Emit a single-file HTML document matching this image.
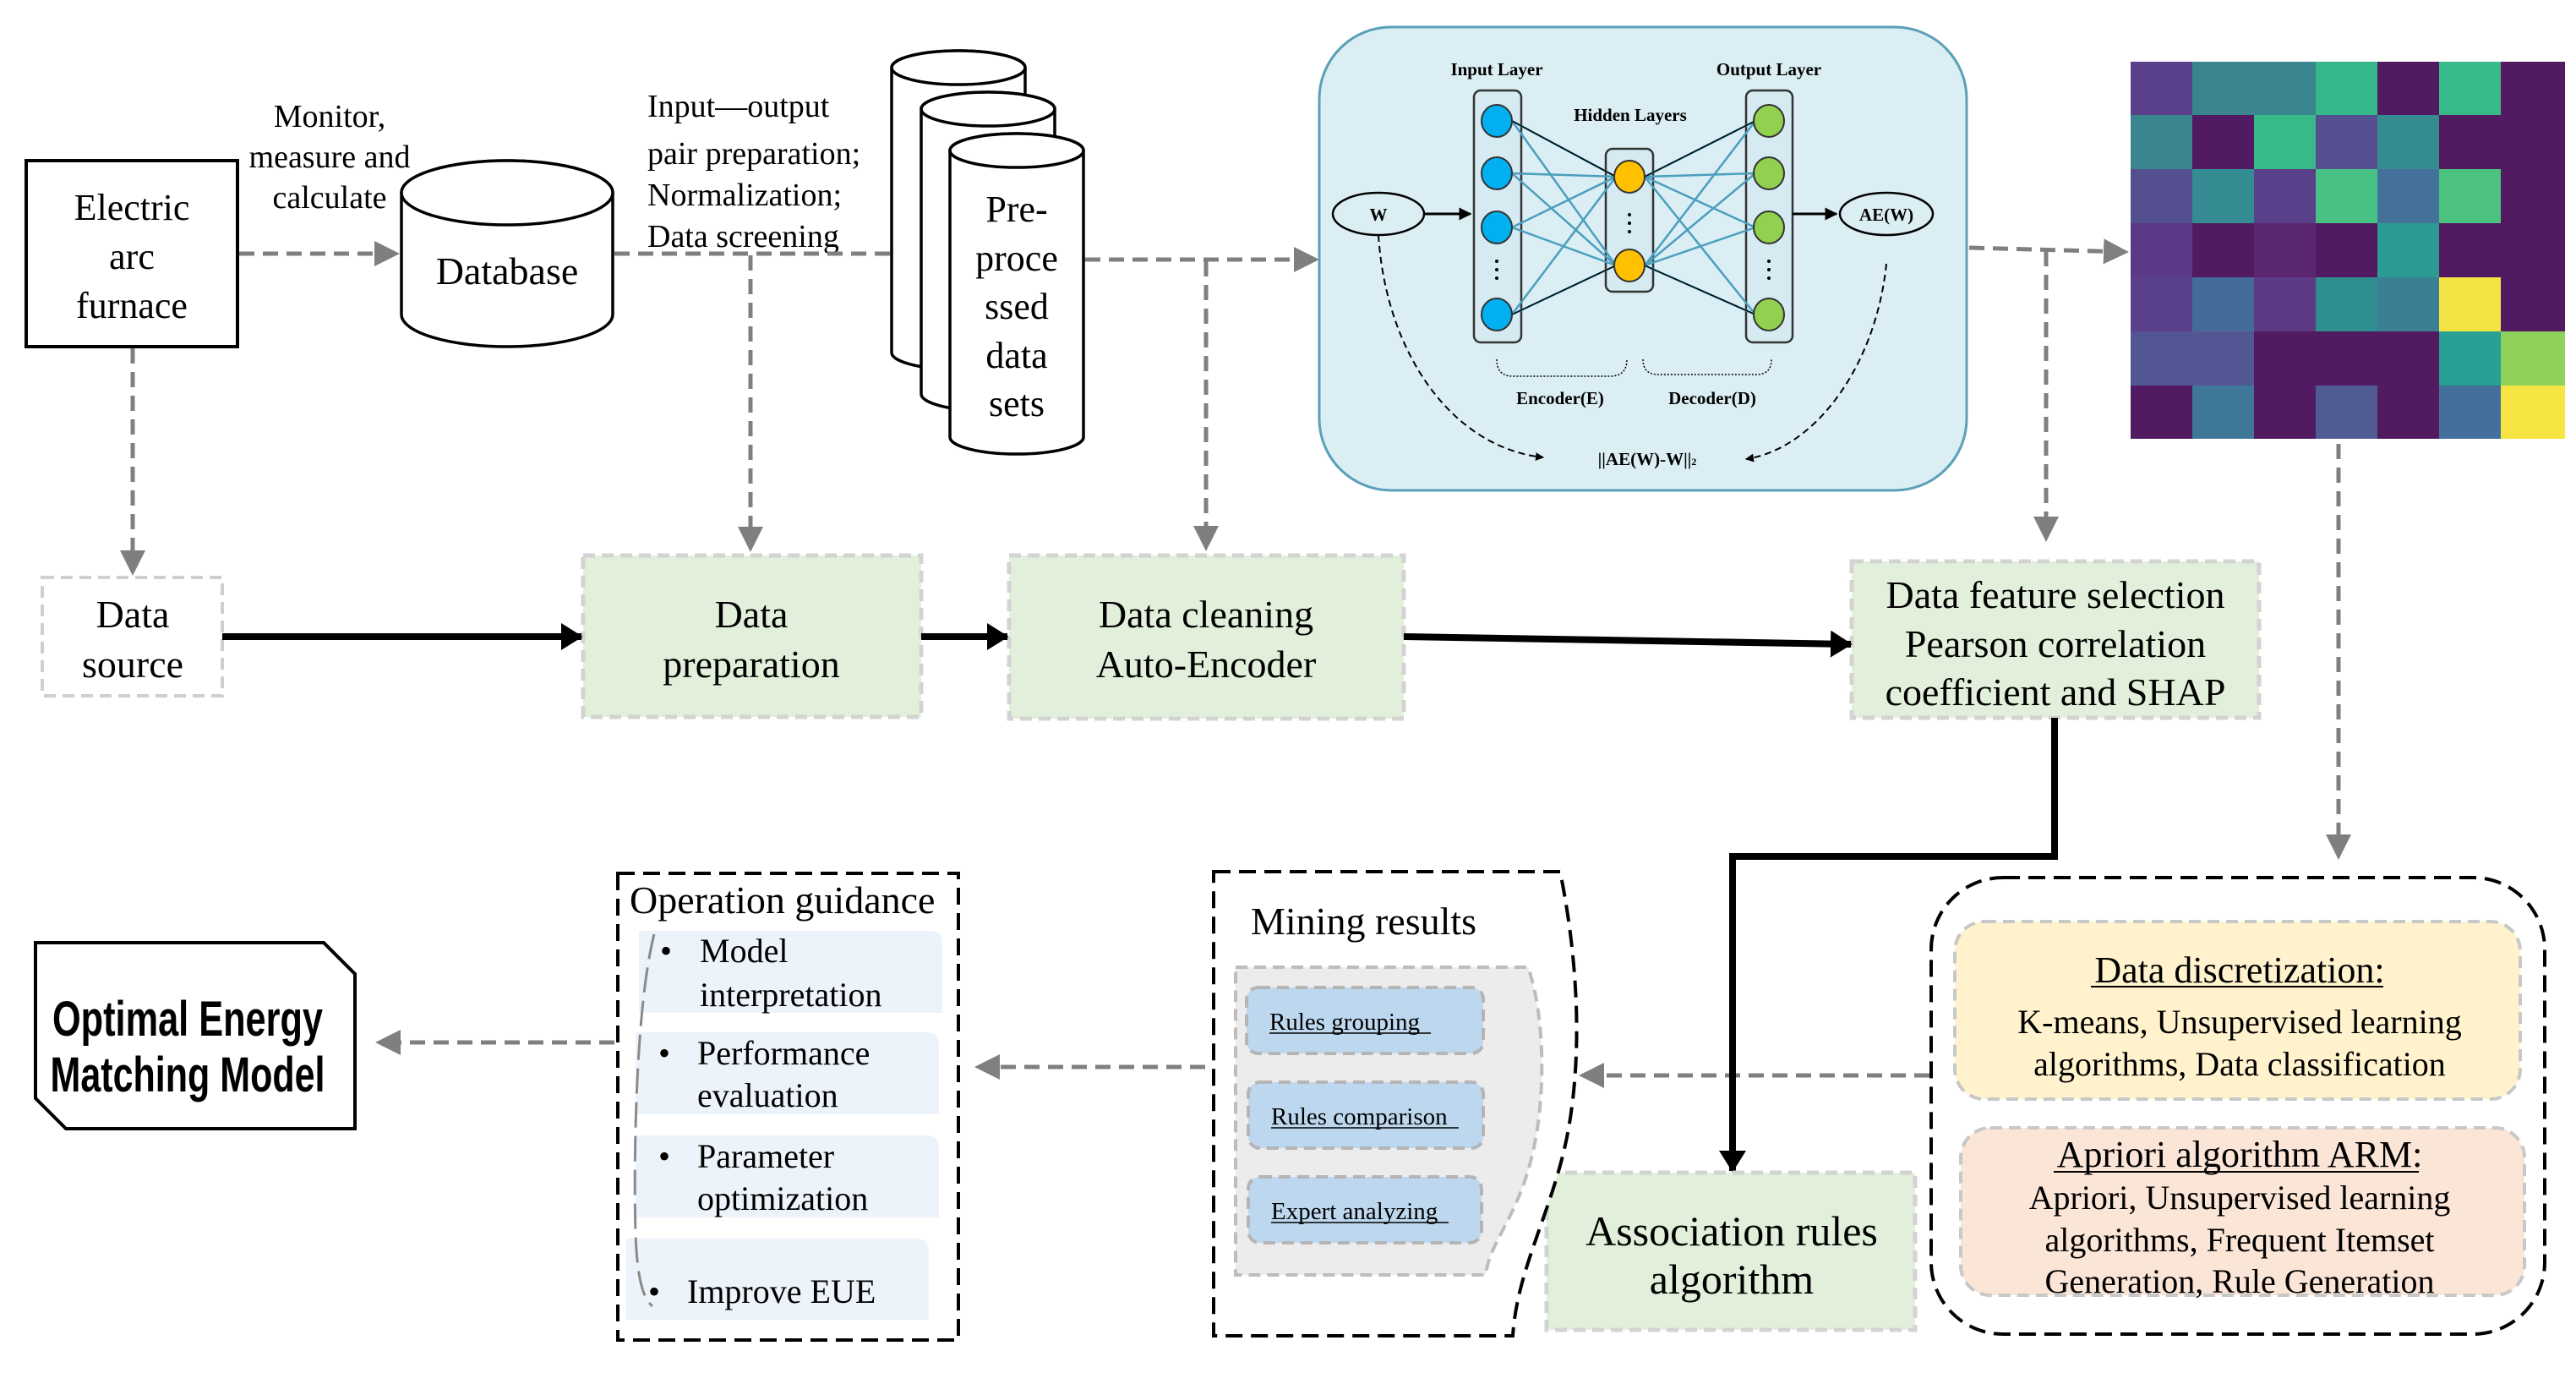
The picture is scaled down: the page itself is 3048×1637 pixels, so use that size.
<!DOCTYPE html>
<html><head><meta charset="utf-8"><style>
html,body{margin:0;padding:0;background:#fff;}
svg{display:block;}
text{font-family:"Liberation Serif",serif;fill:#000;}
</style></head><body>
<svg width="3048" height="1637" viewBox="0 0 3048 1637" xmlns="http://www.w3.org/2000/svg">
<defs>
<marker id="ga" markerWidth="6" markerHeight="6" refX="5" refY="3" orient="auto" markerUnits="strokeWidth"><path d="M0,0 L6,3 L0,6 Z" fill="#7f7f7f"/></marker>
<marker id="ba" markerWidth="5" markerHeight="5" refX="4.5" refY="2.5" orient="auto" markerUnits="strokeWidth"><path d="M0,0 L5,2.5 L0,5 Z" fill="#000"/></marker>
<marker id="sa" markerWidth="3.2" markerHeight="4" refX="3" refY="2" orient="auto" markerUnits="strokeWidth"><path d="M0,0 L3.2,2 L0,4 Z" fill="#000"/></marker>
</defs>

<!-- Electric arc furnace -->
<rect x="31" y="190" width="250" height="220" fill="#fff" stroke="#000" stroke-width="4"/>
<text x="156" y="260" font-size="44" text-anchor="middle">Electric</text>
<text x="156" y="318" font-size="44" text-anchor="middle">arc</text>
<text x="156" y="376" font-size="44" text-anchor="middle">furnace</text>

<text x="390" y="150" font-size="38" text-anchor="middle">Monitor,</text>
<text x="390" y="198" font-size="38" text-anchor="middle">measure and</text>
<text x="390" y="246" font-size="38" text-anchor="middle">calculate</text>

<!-- Database -->
<path d="M475,228 L475,372 A125,38 0 0 0 725,372 L725,228 A125,38 0 0 0 475,228 Z" fill="#fff" stroke="#000" stroke-width="3.5"/>
<ellipse cx="600" cy="228" rx="125" ry="38" fill="#fff" stroke="#000" stroke-width="3.5"/>
<text x="600" y="336" font-size="46" text-anchor="middle">Database</text>

<text x="766" y="138" font-size="38">Input—output</text>
<text x="766" y="194" font-size="38">pair preparation;</text>
<text x="766" y="243" font-size="38">Normalization;</text>
<text x="766" y="292" font-size="38">Data screening</text>

<!-- dashed connectors top -->
<g stroke="#7f7f7f" stroke-width="5" stroke-dasharray="18 10" fill="none">
<line x1="283" y1="300" x2="468" y2="300" marker-end="url(#ga)"/>
<line x1="727" y1="300" x2="1080" y2="300" marker-end="url(#ga)"/>
<line x1="888" y1="302" x2="888" y2="648" marker-end="url(#ga)"/>
<line x1="157" y1="412" x2="157" y2="676" marker-end="url(#ga)"/>
<line x1="1284" y1="307" x2="1556" y2="307" marker-end="url(#ga)"/>
<line x1="1427" y1="309" x2="1427" y2="647" marker-end="url(#ga)"/>
<line x1="2330" y1="293" x2="2514" y2="298" marker-end="url(#ga)"/>
<line x1="2421" y1="297" x2="2421" y2="636" marker-end="url(#ga)"/>
<line x1="2767" y1="525" x2="2767" y2="1012" marker-end="url(#ga)"/>
<line x1="2283" y1="1272" x2="1873" y2="1272" marker-end="url(#ga)"/>
<line x1="1426" y1="1262" x2="1158" y2="1262" marker-end="url(#ga)"/>
<line x1="727" y1="1233" x2="449" y2="1233" marker-end="url(#ga)"/>
</g>

<!-- cylinders -->
<g fill="#fff" stroke="#000" stroke-width="3.5">
<path d="M1055,80 L1055,417 A79,20 0 0 0 1213,417 L1213,80 A79,20 0 0 0 1055,80 Z"/>
<ellipse cx="1134" cy="80" rx="79" ry="20"/>
<path d="M1090,129 L1090,466 A79,20 0 0 0 1248,466 L1248,129 A79,20 0 0 0 1090,129 Z"/>
<ellipse cx="1169" cy="129" rx="79" ry="20"/>
<path d="M1124,178 L1124,517 A79,20 0 0 0 1282,517 L1282,178 A79,20 0 0 0 1124,178 Z"/>
<ellipse cx="1203" cy="178" rx="79" ry="20"/>
</g>
<g font-size="44" text-anchor="middle">
<text x="1203" y="262">Pre-</text>
<text x="1203" y="320">proce</text>
<text x="1203" y="377">ssed</text>
<text x="1203" y="435">data</text>
<text x="1203" y="492">sets</text>
</g>

<!-- AE box -->
<rect x="1561" y="32" width="766" height="548" rx="85" fill="#dbeef4" stroke="#5aa0b8" stroke-width="3"/>
<g font-weight="bold" font-size="21" text-anchor="middle">
<text x="1771" y="89">Input Layer</text>
<text x="2093" y="89">Output Layer</text>
<text x="1929" y="143">Hidden Layers</text>
<text x="1846" y="478">Encoder(E)</text>
<text x="2026" y="478">Decoder(D)</text>
<text x="1949" y="550">||AE(W)-W||<tspan font-size="12">2</tspan></text>
</g>
<rect x="1744" y="107" width="56" height="298" rx="8" fill="#d6eaf2" stroke="#333" stroke-width="2.5"/>
<rect x="1900" y="176" width="56" height="169" rx="8" fill="#d6eaf2" stroke="#333" stroke-width="2.5"/>
<rect x="2066" y="107" width="55" height="298" rx="8" fill="#d6eaf2" stroke="#333" stroke-width="2.5"/>
<g stroke="#4a9fbd" stroke-width="2.5">
<line x1="1789" y1="143" x2="1912" y2="209"/><line x1="1789" y1="143" x2="1912" y2="314"/>
<line x1="1789" y1="205" x2="1912" y2="209"/><line x1="1789" y1="205" x2="1912" y2="314"/>
<line x1="1789" y1="269" x2="1912" y2="209"/><line x1="1789" y1="269" x2="1912" y2="314"/>
<line x1="1789" y1="372" x2="1912" y2="209"/><line x1="1789" y1="372" x2="1912" y2="314"/>
<line x1="1946" y1="209" x2="2077" y2="143"/><line x1="1946" y1="209" x2="2077" y2="205"/>
<line x1="1946" y1="209" x2="2077" y2="269"/><line x1="1946" y1="209" x2="2077" y2="372"/>
<line x1="1946" y1="314" x2="2077" y2="143"/><line x1="1946" y1="314" x2="2077" y2="205"/>
<line x1="1946" y1="314" x2="2077" y2="269"/><line x1="1946" y1="314" x2="2077" y2="372"/>
</g>
<g stroke="#000" stroke-width="1.5">
<line x1="1789" y1="143" x2="1912" y2="209"/><line x1="1789" y1="372" x2="1912" y2="314"/>
<line x1="1946" y1="209" x2="2077" y2="143"/><line x1="1946" y1="314" x2="2077" y2="372"/>
</g>
<g stroke="#333" stroke-width="2">
<ellipse cx="1771" cy="143" rx="18" ry="19" fill="#00b0f0"/>
<ellipse cx="1771" cy="205" rx="18" ry="19" fill="#00b0f0"/>
<ellipse cx="1771" cy="269" rx="18" ry="19" fill="#00b0f0"/>
<ellipse cx="1771" cy="372" rx="18" ry="19" fill="#00b0f0"/>
<ellipse cx="1928" cy="209" rx="18" ry="19" fill="#ffc000"/>
<ellipse cx="1928" cy="314" rx="18" ry="19" fill="#ffc000"/>
<ellipse cx="2093" cy="143" rx="18" ry="19" fill="#92d050"/>
<ellipse cx="2093" cy="205" rx="18" ry="19" fill="#92d050"/>
<ellipse cx="2093" cy="269" rx="18" ry="19" fill="#92d050"/>
<ellipse cx="2093" cy="372" rx="18" ry="19" fill="#92d050"/>
</g>
<g fill="#000">
<circle cx="1771" cy="309" r="2"/><circle cx="1771" cy="319" r="2"/><circle cx="1771" cy="329" r="2"/>
<circle cx="1928" cy="254" r="2"/><circle cx="1928" cy="264" r="2"/><circle cx="1928" cy="274" r="2"/>
<circle cx="2093" cy="309" r="2"/><circle cx="2093" cy="319" r="2"/><circle cx="2093" cy="329" r="2"/>
</g>
<ellipse cx="1631" cy="253" rx="54" ry="25" fill="#dbeef4" stroke="#000" stroke-width="2.5"/>
<ellipse cx="2232" cy="253" rx="55" ry="25" fill="#dbeef4" stroke="#000" stroke-width="2.5"/>
<text x="1631" y="261" font-size="21" font-weight="bold" text-anchor="middle">W</text>
<text x="2232" y="261" font-size="21" font-weight="bold" text-anchor="middle">AE(W)</text>
<line x1="1685" y1="253" x2="1740" y2="253" stroke="#000" stroke-width="3" marker-end="url(#ba)"/>
<line x1="2121" y1="253" x2="2173" y2="253" stroke="#000" stroke-width="3" marker-end="url(#ba)"/>
<g fill="none" stroke="#000" stroke-width="2" stroke-dasharray="8 5">
<path d="M1631,278 C1640,420 1720,530 1826,541" marker-end="url(#ba)"/>
<path d="M2232,312 C2220,430 2150,530 2066,543" marker-end="url(#ba)"/>
</g>
<g fill="none" stroke="#000" stroke-width="1.5" stroke-dasharray="2 2">
<path d="M1771,425 Q1771,445 1790,445 L1905,445 Q1925,445 1925,425"/>
<path d="M1944,425 Q1944,443 1962,443 L2078,443 Q2096,443 2096,425"/>
</g>

<!-- bottom row boxes -->
<rect x="50" y="683" width="213" height="140" fill="#fff" stroke="#cfcfcf" stroke-width="4" stroke-dasharray="14 8"/>
<text x="157" y="742" font-size="46" text-anchor="middle">Data</text>
<text x="157" y="801" font-size="46" text-anchor="middle">source</text>

<rect x="690" y="657" width="400" height="191" fill="#e2efda" stroke="#d3d3d3" stroke-width="5" stroke-dasharray="14 8"/>
<text x="889" y="742" font-size="46" text-anchor="middle">Data</text>
<text x="889" y="801" font-size="46" text-anchor="middle">preparation</text>

<rect x="1194" y="657" width="467" height="193" fill="#e2efda" stroke="#d3d3d3" stroke-width="5" stroke-dasharray="14 8"/>
<text x="1427" y="742" font-size="46" text-anchor="middle">Data cleaning</text>
<text x="1427" y="801" font-size="46" text-anchor="middle">Auto-Encoder</text>

<rect x="2191" y="664" width="482" height="185" fill="#e2efda" stroke="#d3d3d3" stroke-width="5" stroke-dasharray="14 8"/>
<text x="2432" y="719" font-size="46" text-anchor="middle">Data feature selection</text>
<text x="2432" y="777" font-size="46" text-anchor="middle">Pearson correlation</text>
<text x="2432" y="834" font-size="46" text-anchor="middle">coefficient and SHAP</text>

<g stroke="#000" stroke-width="8" fill="none">
<line x1="263" y1="753" x2="688" y2="753" marker-end="url(#sa)"/>
<line x1="1090" y1="753" x2="1192" y2="753" marker-end="url(#sa)"/>
<line x1="1661" y1="753" x2="2190" y2="762" marker-end="url(#sa)"/>
<polyline points="2431,849 2431,1013 2050,1013 2050,1385" marker-end="url(#sa)"/>
</g>

<!-- Association rules -->
<rect x="1830" y="1387" width="436" height="186" fill="#e2efda" stroke="#d3d3d3" stroke-width="5" stroke-dasharray="14 8"/>
<text x="2049" y="1473" font-size="50" text-anchor="middle">Association rules</text>
<text x="2049" y="1530" font-size="50" text-anchor="middle">algorithm</text>

<!-- right group -->
<rect x="2285" y="1038" width="726" height="540" rx="85" fill="none" stroke="#000" stroke-width="4" stroke-dasharray="20 10"/>
<rect x="2313" y="1090" width="669" height="210" rx="35" fill="#fff2cc" stroke="#c8c8c8" stroke-width="4" stroke-dasharray="14 8"/>
<text x="2650" y="1162" font-size="44" text-anchor="middle">Data discretization:</text>
<line x1="2474" y1="1167" x2="2820" y2="1167" stroke="#000" stroke-width="2"/>
<text x="2650" y="1222" font-size="40" text-anchor="middle">K-means, Unsupervised learning</text>
<text x="2650" y="1272" font-size="40" text-anchor="middle">algorithms, Data classification</text>

<rect x="2320" y="1334" width="667" height="198" rx="35" fill="#fbe5d6" stroke="#c8c8c8" stroke-width="4" stroke-dasharray="14 8"/>
<text x="2650" y="1380" font-size="44" text-anchor="middle">Apriori algorithm ARM:</text>
<line x1="2430" y1="1386" x2="2862" y2="1386" stroke="#000" stroke-width="2"/>
<text x="2650" y="1430" font-size="40" text-anchor="middle">Apriori, Unsupervised learning</text>
<text x="2650" y="1480" font-size="40" text-anchor="middle">algorithms, Frequent Itemset</text>
<text x="2650" y="1529" font-size="40" text-anchor="middle">Generation, Rule Generation</text>

<!-- Mining results -->
<path d="M1436,1031 H1846 C1868,1140 1872,1250 1855,1340 C1838,1430 1795,1500 1790,1580 H1436 Z" fill="#fff" stroke="#000" stroke-width="4" stroke-dasharray="20 10"/>
<text x="1480" y="1105" font-size="46">Mining results</text>
<path d="M1462,1144 H1808 C1828,1200 1830,1300 1812,1370 C1795,1440 1762,1470 1758,1508 H1462 Z" fill="#ececec" stroke="#bdbdbd" stroke-width="4" stroke-dasharray="14 8"/>
<g fill="#bdd7ee" stroke="#b5b5b5" stroke-width="4" stroke-dasharray="14 8">
<rect x="1475" y="1168" width="280" height="78" rx="14"/>
<rect x="1477" y="1280" width="278" height="78" rx="14"/>
<rect x="1477" y="1392" width="276" height="78" rx="14"/>
</g>
<g font-size="29">
<text x="1502" y="1218">Rules grouping</text>
<text x="1504" y="1330">Rules comparison</text>
<text x="1504" y="1442">Expert analyzing</text>
</g>
<g stroke="#000" stroke-width="1.5">
<line x1="1502" y1="1222" x2="1693" y2="1222"/>
<line x1="1504" y1="1334" x2="1726" y2="1334"/>
<line x1="1504" y1="1446" x2="1714" y2="1446"/>
</g>

<!-- Operation guidance -->
<rect x="731" y="1033" width="403" height="552" fill="none" stroke="#000" stroke-width="4" stroke-dasharray="20 10"/>
<text x="745" y="1080" font-size="46">Operation guidance</text>
<g fill="#ecf3fa">
<path d="M756,1101 H1100 Q1115,1101 1115,1116 V1198 H756 Z"/>
<path d="M752,1221 H1097 Q1111,1221 1111,1236 V1318 H752 Z"/>
<path d="M752,1343 H1097 Q1111,1343 1111,1358 V1440 H752 Z"/>
<path d="M741,1465 H1085 Q1099,1465 1099,1480 V1561 H741 Z"/>
</g>
<path d="M774,1105 C750,1200 750,1400 752,1460 C754,1510 760,1535 772,1545" fill="none" stroke="#8a8a8a" stroke-width="3" stroke-dasharray="30 10"/>
<g font-size="40">
<text x="781" y="1138">•</text><text x="828" y="1138">Model</text><text x="828" y="1190">interpretation</text>
<text x="779" y="1259">•</text><text x="825" y="1259">Performance</text><text x="825" y="1309">evaluation</text>
<text x="779" y="1381">•</text><text x="825" y="1381">Parameter</text><text x="825" y="1431">optimization</text>
<text x="767" y="1541">•</text><text x="813" y="1541">Improve EUE</text>
</g>

<!-- Optimal Energy Matching Model -->
<path d="M42,1115 L383,1115 L420,1152 L420,1335 L78,1335 L42,1299 Z" fill="#fff" stroke="#000" stroke-width="4"/>
<text x="222" y="1225" font-size="58" font-weight="bold" text-anchor="middle" textLength="320" lengthAdjust="spacingAndGlyphs" style="font-family:'Liberation Sans Narrow','Liberation Sans',sans-serif">Optimal Energy</text>
<text x="222" y="1291" font-size="58" font-weight="bold" text-anchor="middle" textLength="325" lengthAdjust="spacingAndGlyphs" style="font-family:'Liberation Sans Narrow','Liberation Sans',sans-serif">Matching Model</text>

<!-- heatmap cells -->
<g>
<rect x="2521" y="73" width="74" height="64" fill="#5a3f8a"/><rect x="2594" y="73" width="74" height="64" fill="#3a868f"/><rect x="2667" y="73" width="74" height="64" fill="#3a868f"/><rect x="2740" y="73" width="74" height="64" fill="#35b78a"/><rect x="2813" y="73" width="74" height="64" fill="#521a60"/><rect x="2886" y="73" width="74" height="64" fill="#38b98a"/><rect x="2959" y="73" width="76" height="64" fill="#521a60"/>
<rect x="2521" y="136" width="74" height="65" fill="#3a868f"/><rect x="2594" y="136" width="74" height="65" fill="#521a60"/><rect x="2667" y="136" width="74" height="65" fill="#38b98a"/><rect x="2740" y="136" width="74" height="65" fill="#54508f"/><rect x="2813" y="136" width="74" height="65" fill="#358c90"/><rect x="2886" y="136" width="74" height="65" fill="#521a60"/><rect x="2959" y="136" width="76" height="65" fill="#521a60"/>
<rect x="2521" y="200" width="74" height="65" fill="#54508f"/><rect x="2594" y="200" width="74" height="65" fill="#348b91"/><rect x="2667" y="200" width="74" height="65" fill="#5a3f8a"/><rect x="2740" y="200" width="74" height="65" fill="#48c184"/><rect x="2813" y="200" width="74" height="65" fill="#44719a"/><rect x="2886" y="200" width="74" height="65" fill="#4bc27f"/><rect x="2959" y="200" width="76" height="65" fill="#521a60"/>
<rect x="2521" y="264" width="74" height="65" fill="#5a3a86"/><rect x="2594" y="264" width="74" height="65" fill="#521a60"/><rect x="2667" y="264" width="74" height="65" fill="#5a2670"/><rect x="2740" y="264" width="74" height="65" fill="#521a60"/><rect x="2813" y="264" width="74" height="65" fill="#2c9c92"/><rect x="2886" y="264" width="74" height="65" fill="#521a60"/><rect x="2959" y="264" width="76" height="65" fill="#521a60"/>
<rect x="2521" y="328" width="74" height="65" fill="#5a3f8a"/><rect x="2594" y="328" width="74" height="65" fill="#456c98"/><rect x="2667" y="328" width="74" height="65" fill="#5c3a84"/><rect x="2740" y="328" width="74" height="65" fill="#2f8e90"/><rect x="2813" y="328" width="74" height="65" fill="#3b7f95"/><rect x="2886" y="328" width="74" height="65" fill="#f4e443"/><rect x="2959" y="328" width="76" height="65" fill="#521a60"/>
<rect x="2521" y="392" width="74" height="65" fill="#525692"/><rect x="2594" y="392" width="74" height="65" fill="#525692"/><rect x="2667" y="392" width="74" height="65" fill="#521a60"/><rect x="2740" y="392" width="74" height="65" fill="#521a60"/><rect x="2813" y="392" width="74" height="65" fill="#521a60"/><rect x="2886" y="392" width="74" height="65" fill="#29a096"/><rect x="2959" y="392" width="76" height="65" fill="#8fd15a"/>
<rect x="2521" y="456" width="74" height="63" fill="#521a60"/><rect x="2594" y="456" width="74" height="63" fill="#3e7797"/><rect x="2667" y="456" width="74" height="63" fill="#521a60"/><rect x="2740" y="456" width="74" height="63" fill="#515c95"/><rect x="2813" y="456" width="74" height="63" fill="#521a60"/><rect x="2886" y="456" width="74" height="63" fill="#43709a"/><rect x="2959" y="456" width="76" height="63" fill="#f6e442"/>
</g>
</svg>
</body></html>
